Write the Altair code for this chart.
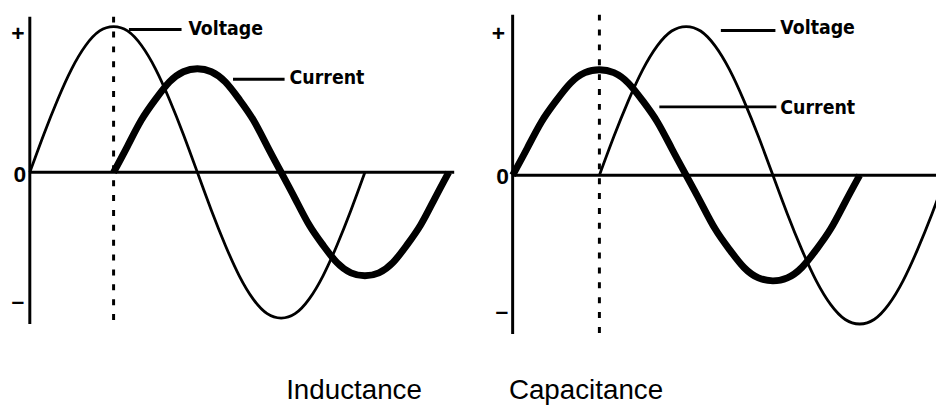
import altair as alt
import pandas as pd

# ---- data (phase in degrees, amplitude relative to voltage peak) ----
phase = [0, 15, 30, 45, 60, 75, 90, 105, 120, 135, 150, 165, 180,
         195, 210, 225, 240, 255, 270, 285, 300, 315, 330, 345, 360]
voltage = [0, 0.26, 0.5, 0.71, 0.87, 0.97, 1.0, 0.97, 0.87, 0.71, 0.5, 0.26, 0,
           -0.26, -0.5, -0.71, -0.87, -0.97, -1.0, -0.97, -0.87, -0.71, -0.5, -0.26, 0]
current = [0, 0.18, 0.36, 0.5, 0.62, 0.69, 0.71, 0.69, 0.62, 0.5, 0.36, 0.18, 0,
           -0.18, -0.36, -0.5, -0.62, -0.69, -0.71, -0.69, -0.62, -0.5, -0.36, -0.18, 0]

panels = ["Inductance", "Capacitance"]
voltage_start = [0, 90]     # degrees where the voltage wave begins
current_start = [90, 0]     # degrees where the current wave begins
sign_labels = ["+", "0", "–"]
series_labels = ["Voltage", "Current"]

# ---- layout helpers (panel geometry) ----
X_DOMAIN = {"Inductance": [-23.43, 477.16], "Capacitance": [-40.11, 439.2]}
Y_DOMAIN = {"Inductance": [-1.5986, 1.1156], "Capacitance": [-1.5467, 1.1133]}
WIDTH = {"Inductance": 470, "Capacitance": 466}
HEIGHT = 399

FONT_LBL = "Liberation Sans Narrow, DejaVu Sans Condensed, Liberation Sans"


def panel(i):
    name = panels[i]
    xs = alt.Scale(domain=X_DOMAIN[name], nice=False, zero=False)
    ys = alt.Scale(domain=Y_DOMAIN[name], nice=False, zero=False)

    def X(f="x"):
        return alt.X(f"{f}:Q", scale=xs, axis=None)

    def Y(f="y"):
        return alt.Y(f"{f}:Q", scale=ys, axis=None)

    v = pd.DataFrame({"x": [p + voltage_start[i] for p in phase], "y": voltage})
    c = pd.DataFrame({"x": [p + current_start[i] for p in phase], "y": current})

    if name == "Inductance":
        ax_top, ax_bot, zero_end = 1.068, -1.041, 455.9
        signs = pd.DataFrame({"x": [-12.8, -10.65, -12.8], "y": [0.946, -0.017, -0.891], "t": sign_labels})
        leaders = pd.DataFrame({"x": [106.5, 218.3], "x2": [163.0, 273.7], "y": [0.98, 0.639]})
        texts = pd.DataFrame({"x": [170.4, 279.1], "y": [0.986, 0.646], "t": series_labels})
        title = pd.DataFrame({"x": [348.3], "y": [-1.503], "t": [name]})
    else:
        ax_top, ax_bot, zero_end = 1.08, -1.067, 439.2
        signs = pd.DataFrame({"x": [-14.9, -10.3, -11.3], "y": [0.947, -0.01, -0.92], "t": sign_labels})
        leaders = pd.DataFrame({"x": [216.0, 152.2], "x2": [272.6, 273.6], "y": [0.973, 0.46]})
        texts = pd.DataFrame({"x": [277.7, 277.7], "y": [0.993, 0.453], "t": series_labels})
        title = pd.DataFrame({"x": [76.1], "y": [-1.453], "t": [name]})

    axis_v = alt.Chart(pd.DataFrame({"x": [0], "y": [ax_top], "y2": [ax_bot]})).mark_rule(
        color="black", strokeWidth=3).encode(x=X(), y=Y(), y2="y2:Q")
    axis_h = alt.Chart(pd.DataFrame({"x": [0], "x2": [zero_end], "y": [0]})).mark_rule(
        color="black", strokeWidth=3, clip=True).encode(x=X(), x2="x2:Q", y=Y())
    dotted = alt.Chart(pd.DataFrame({"x": [90], "y": [ax_top], "y2": [ax_bot]})).mark_rule(
        color="black", strokeWidth=3, strokeDash=[6, 9]).encode(x=X(), y=Y(), y2="y2:Q")
    vline = alt.Chart(v).mark_line(color="black", strokeWidth=2.8, interpolate="natural",
                                   clip=True).encode(x=X(), y=Y(), order="x:Q")
    cline = alt.Chart(c).mark_line(color="black", strokeWidth=7, interpolate="natural",
                                   clip=True).encode(x=X(), y=Y(), order="x:Q")
    lead = alt.Chart(leaders).mark_rule(color="black", strokeWidth=3).encode(
        x=X(), x2="x2:Q", y=Y())
    sign = alt.Chart(signs).mark_text(font="Liberation Sans", fontSize=23, fontWeight="bold",
                                      align="center", baseline="middle", color="black").encode(
        x=X(), y=Y(), text="t:N")
    lbl = alt.Chart(texts).mark_text(font=FONT_LBL, fontSize=19.5, fontWeight="bold",
                                     align="left", baseline="middle", color="black").encode(
        x=X(), y=Y(), text="t:N")
    ttl = alt.Chart(title).mark_text(font="Liberation Sans", fontSize=28, align="center",
                                     baseline="middle", color="black").encode(
        x=X(), y=Y(), text="t:N")

    return alt.layer(axis_v, axis_h, dotted, vline, cline, lead, sign, lbl, ttl).properties(
        width=WIDTH[name], height=HEIGHT)


chart = alt.hconcat(panel(0), panel(1), spacing=0, bounds="flush").properties(
    padding=0, background="white"
).configure_view(strokeWidth=0)

chart.save("out.html", embed_options={"renderer": "svg", "actions": False})
